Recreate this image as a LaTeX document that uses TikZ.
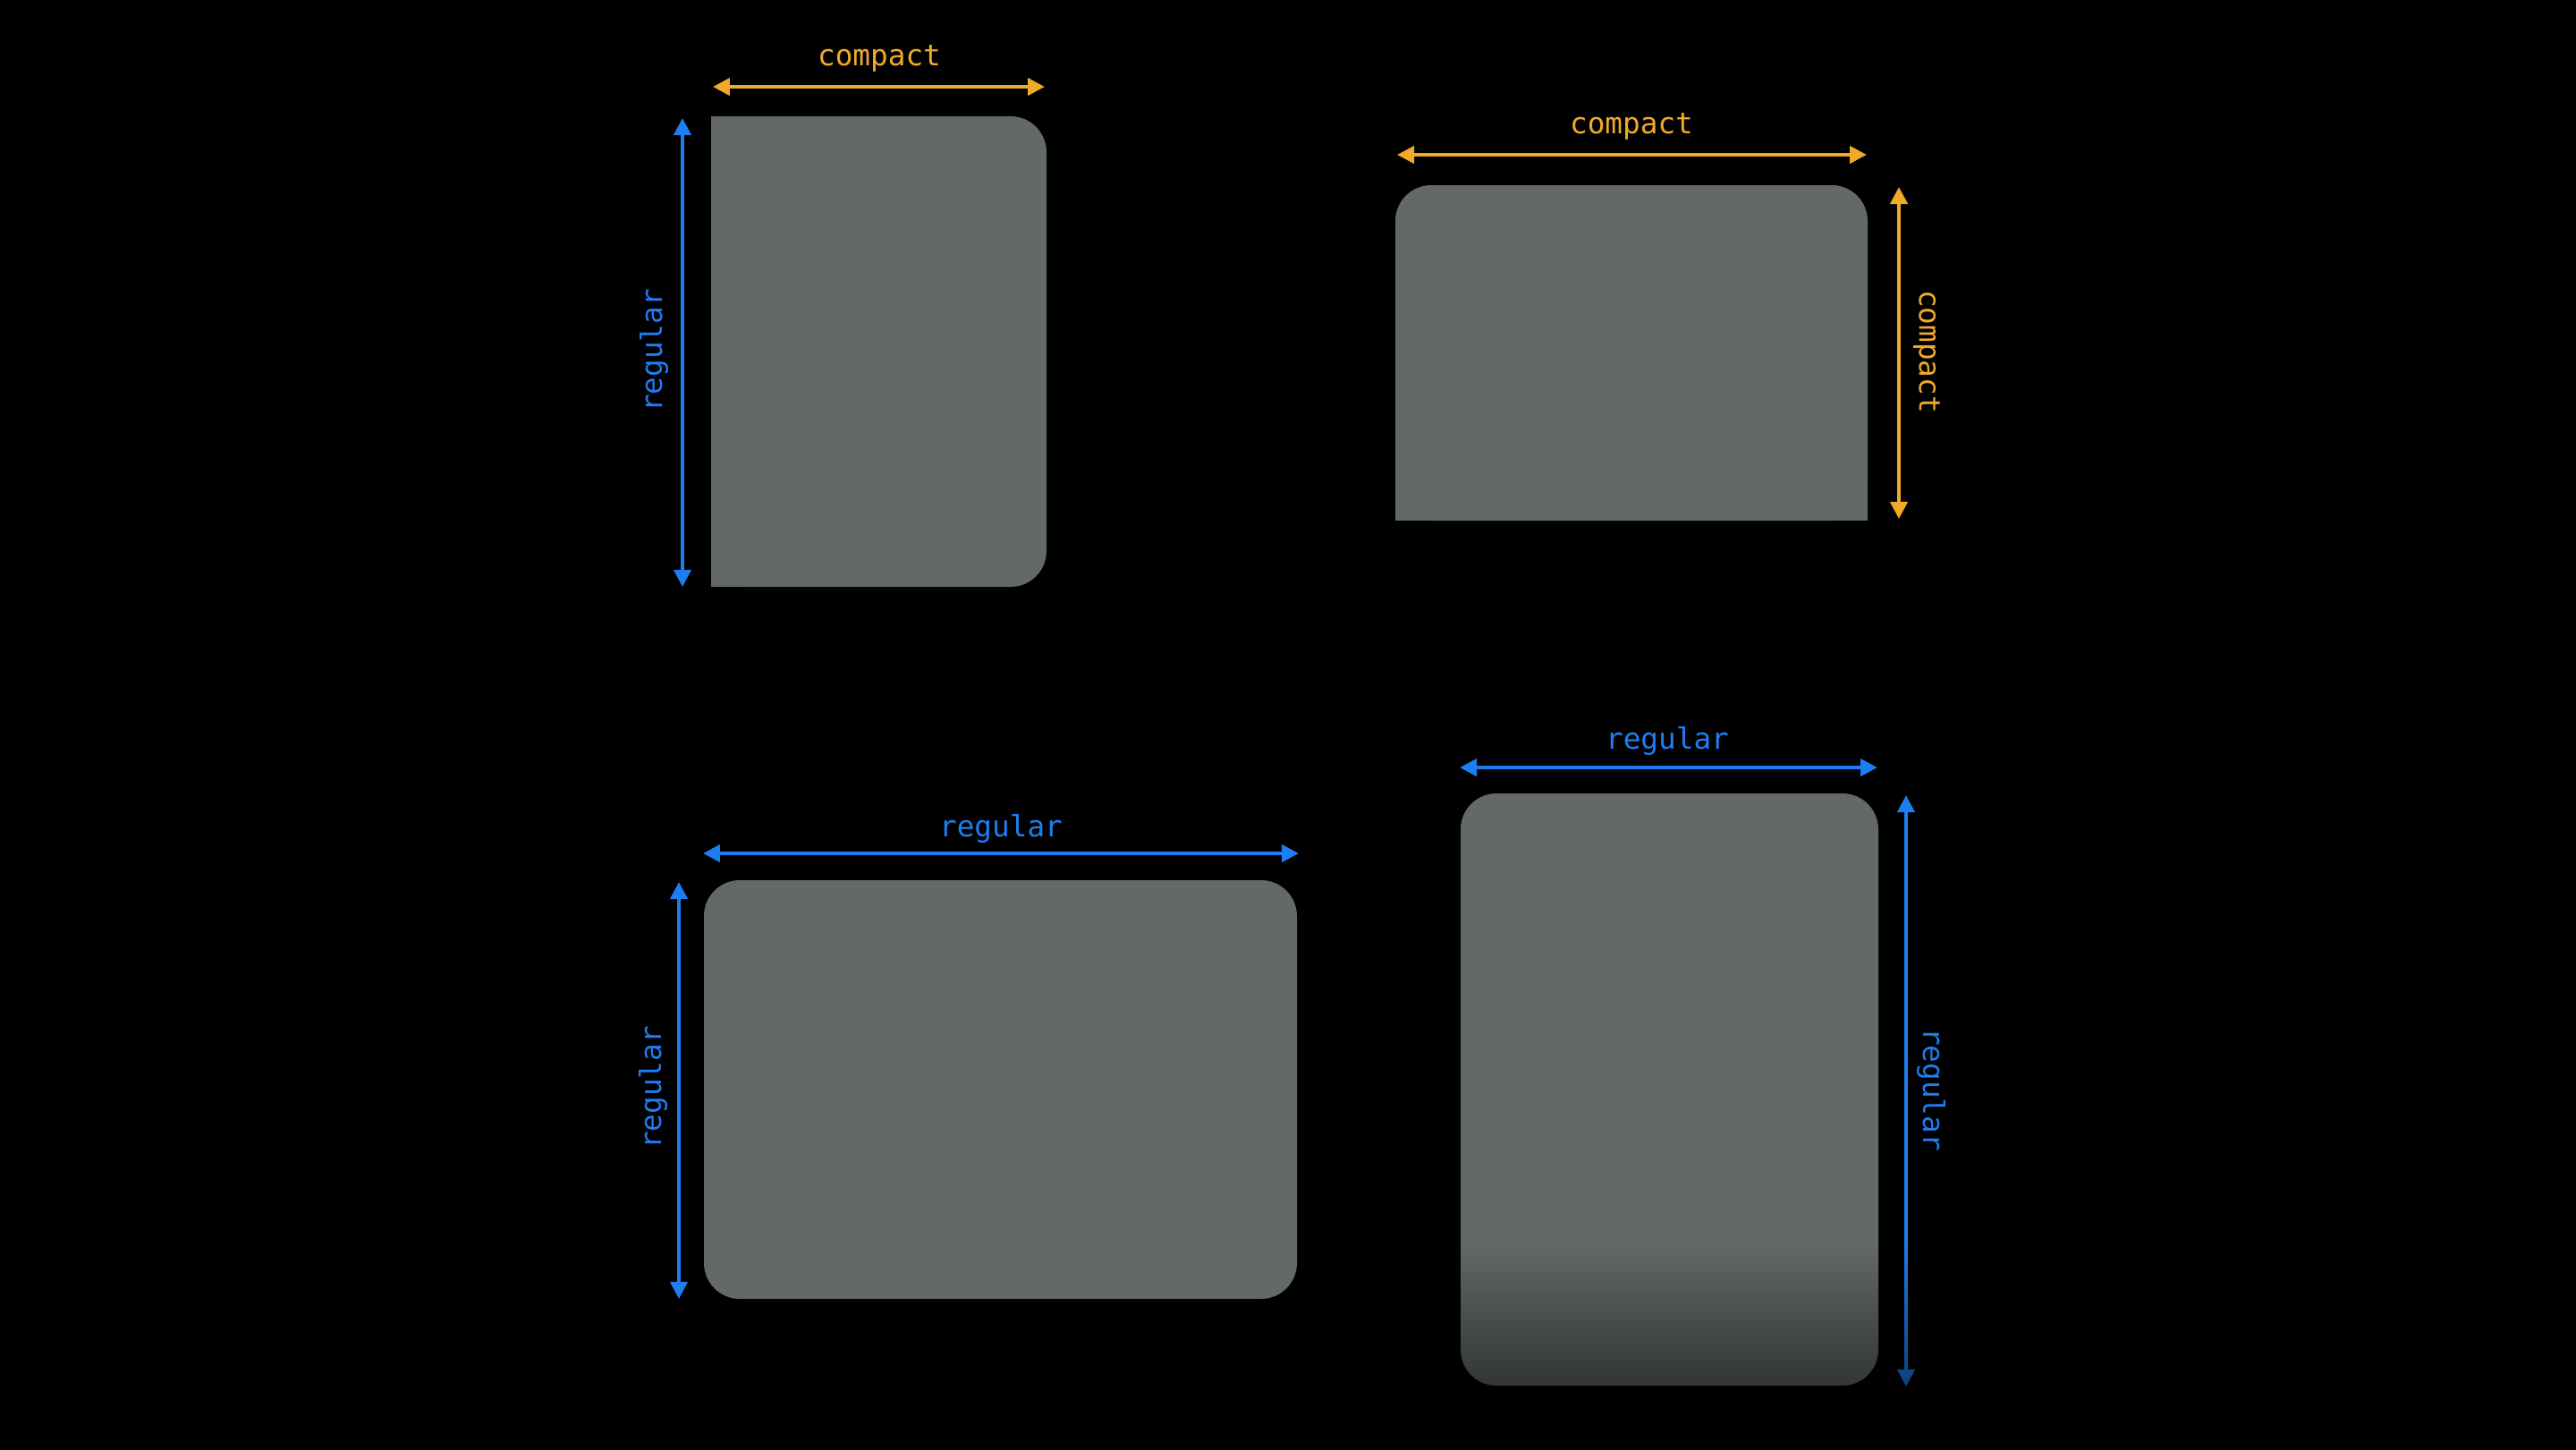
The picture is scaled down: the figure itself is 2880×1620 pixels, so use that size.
\documentclass[tikz,border=0pt]{standalone}
\usepackage{fontspec}
\setmonofont{DejaVu Sans Mono}
\usetikzlibrary{arrows.meta,fadings}

\definecolor{panelgray}{RGB}{99,104,104}
\definecolor{compactorange}{RGB}{240,170,40}
\definecolor{regularblue}{RGB}{30,125,240}

\tikzstyle{panel} = [fill=panelgray, rounded corners=0.4cm]
\tikzstyle{dim} = [line width=1.2pt, {Triangle[length=5.4pt,width=5.4pt]}-{Triangle[length=5.4pt,width=5.4pt]}]
\tikzstyle{sizelabel} = [font=\ttfamily\fontsize{9.3}{11}\selectfont, inner sep=0pt]
\tikzfading[name=fade bottom, top color=transparent!100, bottom color=transparent!48]

\begin{document}
\begin{tikzpicture}[x=0.01cm,y=-0.01cm]
	\useasboundingbox (0,0) rectangle (2880,1620);
	\fill[black] (-10,-10) rectangle (2890,1630);
	% compact width, regular height
	\fill[panel] (795,130) rectangle (1170,656);
	\fill[panelgray] (795,130) rectangle (900,656);
	\coordinate (tlw) at (797,97);
	\coordinate (tle) at (1168,97);
	\coordinate (tln) at (763,132);
	\coordinate (tls) at (763,656);
	\draw[dim, compactorange] (tlw) -- (tle);
	\draw[dim, regularblue] (tls) -- (tln);
	\node[sizelabel, compactorange] (tlwidth) at (983,65) {compact};
	\node[sizelabel, regularblue, rotate=90] (tlheight) at (731,392) {regular};
	% compact width, compact height
	\fill[panel] (1560,207) rectangle (2088,582);
	\fill[panelgray] (1560,400) rectangle (2088,582);
	\coordinate (trw) at (1562,173);
	\coordinate (tre) at (2087,173);
	\coordinate (trn) at (2123,209);
	\coordinate (trs) at (2123,580);
	\draw[dim, compactorange] (trw) -- (tre);
	\draw[dim, compactorange] (trn) -- (trs);
	\node[sizelabel, compactorange] (trwidth) at (1824,141) {compact};
	\node[sizelabel, compactorange, rotate=-90] (trheight) at (2154,393) {compact};
	% regular width, regular height (landscape)
	\fill[panel] (787,984) rectangle (1450,1452);
	\coordinate (blw) at (786,954);
	\coordinate (ble) at (1452,954);
	\coordinate (bln) at (759,986);
	\coordinate (bls) at (759,1452);
	\draw[dim, regularblue] (blw) -- (ble);
	\draw[dim, regularblue] (bls) -- (bln);
	\node[sizelabel, regularblue] (blwidth) at (1119,926) {regular};
	\node[sizelabel, regularblue, rotate=90] (blheight) at (730,1216) {regular};
	% regular width, regular height (portrait)
	\fill[panel] (1633,887) rectangle (2100,1549);
	\coordinate (brw) at (1632,858);
	\coordinate (bre) at (2099,858);
	\coordinate (brn) at (2131,889);
	\coordinate (brs) at (2131,1550);
	\draw[dim, regularblue] (brw) -- (bre);
	\draw[dim, regularblue] (brn) -- (brs);
	\node[sizelabel, regularblue] (brwidth) at (1864,828) {regular};
	\node[sizelabel, regularblue, rotate=-90] (brheight) at (2159,1218) {regular};
	\fill[black, path fading=fade bottom] (1620,1390) rectangle (2150,1562);
\end{tikzpicture}
\end{document}
